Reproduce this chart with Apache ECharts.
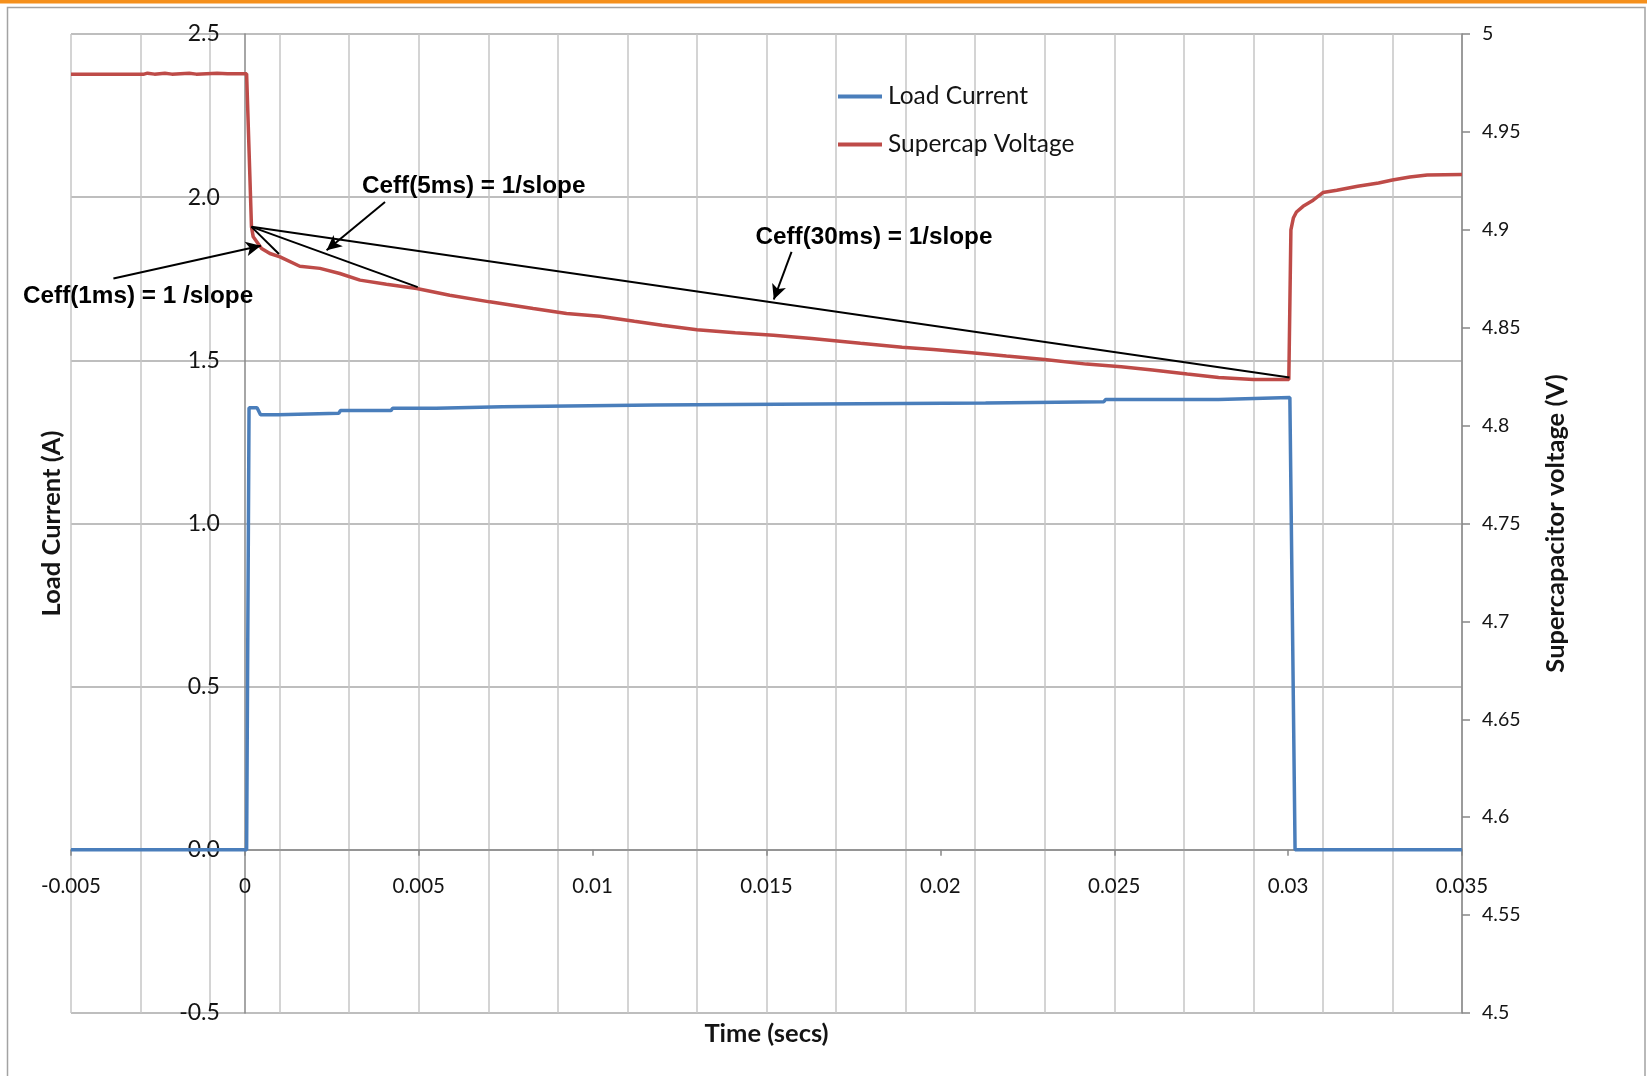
<!DOCTYPE html>
<html>
<head>
<meta charset="utf-8">
<title>Supercapacitor pulse discharge</title>
<script src="https://cdn.jsdelivr.net/npm/echarts@6/dist/echarts.min.js"></script>
<style>
  html, body { margin: 0; padding: 0; background: #ffffff; }
  #chart { width: 1647px; height: 1076px; }
</style>
</head>
<body>
<div id="chart"></div>
<script>
// Load current pulse (time in seconds, current in amps)
const currentTime = [-0.005, 0.00005, 0.00012, 0.00035, 0.00045, 0.00095, 0.001, 0.0027, 0.00275, 0.0042,
  0.00425, 0.0055, 0.00555, 0.0074, 0.00745, 0.0118, 0.01185, 0.0165, 0.01655, 0.0213,
  0.02135, 0.0247, 0.02475, 0.028, 0.02805, 0.03005, 0.0302, 0.035];
const currentValue = [0, 0, 1.355, 1.355, 1.333, 1.333, 1.338, 1.338, 1.346, 1.346,
  1.353, 1.353, 1.358, 1.358, 1.363, 1.363, 1.366, 1.366, 1.369, 1.369,
  1.373, 1.373, 1.38, 1.38, 1.386, 1.386, 0, 0];

// Supercapacitor terminal voltage (time in seconds, volts)
const voltageTime = [-0.005, -0.0029, -0.0028, -0.0026, -0.0023, -0.0021, -0.0016, -0.0014, -0.0008, -0.0005,
  0.00005, 0.00019, 0.00024, 0.00048, 0.00072, 0.00101, 0.00158, 0.00216, 0.00273, 0.00331,
  0.00407, 0.00494, 0.00589, 0.00704, 0.00829, 0.00925, 0.0102, 0.0112, 0.012, 0.013,
  0.0141, 0.0152, 0.0163, 0.0177, 0.0189, 0.0198, 0.0209, 0.0219, 0.023, 0.0242,
  0.0252, 0.0261, 0.0271, 0.028, 0.029, 0.03002, 0.03008, 0.03015, 0.03024, 0.03043,
  0.03072, 0.031, 0.0314, 0.032, 0.0326, 0.033, 0.0335, 0.034, 0.035];
const voltageValue = [4.9795, 4.9795, 4.98, 4.9795, 4.98, 4.9795, 4.98, 4.9795, 4.98, 4.9797,
  4.9797, 4.9015, 4.8964, 4.8905, 4.8879, 4.8862, 4.8814, 4.8803, 4.8777, 4.8743,
  4.8722, 4.87, 4.8666, 4.8632, 4.8598, 4.8573, 4.8559, 4.8533, 4.8513, 4.849,
  4.8474, 4.8462, 4.8445, 4.842, 4.84, 4.8389, 4.8372, 4.8355, 4.8338, 4.8314,
  4.8301, 4.8284, 4.8263, 4.8246, 4.8236, 4.8236, 4.9, 4.906, 4.9091, 4.912,
  4.9151, 4.919, 4.9202, 4.9222, 4.9239, 4.9254, 4.927, 4.928, 4.9282];

// Secant lines used to read the effective capacitance: common start, end after 1 ms, 5 ms, 30 ms
const slopeStart = [0.00019, 4.9015];
const slopeEnds = [[0.00098, 4.8876], [0.00497, 4.8707], [0.03004, 4.8246]];

// Callout arrows [from, to] and their captions, in (time, voltage) units
const arrowPairs = [
  [[-0.00378, 4.8751], [0.00046, 4.8919]],
  [[0.00403, 4.9142], [0.00235, 4.8896]],
  [[0.01572, 4.8887], [0.01521, 4.8644]]
];
const calloutTexts = ['Ceff(1ms) = 1 /slope', 'Ceff(5ms) = 1/slope', 'Ceff(30ms) = 1/slope'];
const calloutAnchors = [[-0.00638, 4.8662], [0.00658, 4.9222], [0.01809, 4.8962]];
const calloutAlign = ['left', 'center', 'center'];

// Axis tick settings
const timeTicks = { min: -0.005, max: 0.035, step: 0.005 };
const currentTicks = { min: -0.5, max: 2.5, step: 0.5 };
const voltageTicks = { min: 4.5, max: 5, step: 0.05 };

const zip = (xs, ys) => xs.map((x, i) => [x, ys[i]]);

const AXIS_GREY = '#888888';
const TEXT = '#141414';
const FONT = 'Lato';

const chart = echarts.init(document.getElementById('chart'), null, { renderer: 'canvas' });

const markLineData = [];
slopeEnds.forEach(end => {
  markLineData.push([
    { coord: slopeStart, symbol: 'none' },
    { coord: end, symbol: 'none' }
  ]);
});
arrowPairs.forEach(([from, to]) => {
  markLineData.push([
    { coord: from, symbol: 'none' },
    { coord: to, symbol: 'arrow', symbolSize: [11, 15] }
  ]);
});

chart.setOption({
  animation: false,
  backgroundColor: '#ffffff',
  grid: { left: 71, top: 34, right: 185, bottom: 63, containLabel: false, outerBoundsMode: 'none' },
  legend: {
    data: ['Load Current', 'Supercap Voltage'],
    orient: 'vertical',
    left: 838,
    top: 84,
    padding: 0,
    icon: 'rect',
    itemWidth: 44,
    itemHeight: 4,
    itemGap: 23,
    textStyle: { fontFamily: FONT, fontSize: 24.5, color: TEXT, padding: [0, 0, 0, 1] }
  },
  xAxis: [
    {
      type: 'value',
      min: timeTicks.min,
      max: timeTicks.max,
      interval: timeTicks.step,
      position: 'bottom',
      offset: 0,
      axisLine: { show: true, onZero: false, lineStyle: { color: AXIS_GREY, width: 1.5 } },
      axisTick: { show: true, length: 6, lineStyle: { color: AXIS_GREY, width: 1.5 } },
      axisLabel: {
        margin: 26, fontFamily: FONT, fontSize: 20.5, color: TEXT,
        formatter: v => String(+v.toFixed(3))
      },
      splitLine: { show: false },
      name: 'Time (secs)',
      nameLocation: 'middle',
      nameGap: 171,
      nameTextStyle: { fontFamily: FONT, fontWeight: 'bold', fontSize: 25.5, color: TEXT }
    },
    {
      // vertical grid every 2 ms, counted from the left edge of the time range
      type: 'value',
      min: 0,
      max: 40,
      interval: 2,
      axisLine: { show: false, onZero: false },
      axisTick: { show: false },
      axisLabel: { show: false },
      splitLine: { show: true, lineStyle: { color: '#c6c6c6', width: 1.5 } }
    }
  ],
  yAxis: [
    {
      type: 'value',
      min: currentTicks.min,
      max: currentTicks.max,
      interval: currentTicks.step,
      position: 'left',
      offset: 0,
      axisLine: { show: true, onZero: false, lineStyle: { color: AXIS_GREY, width: 1.5 } },
      axisTick: { show: false },
      axisLabel: {
        margin: 25, fontFamily: FONT, fontSize: 23, color: TEXT,
        formatter: v => v.toFixed(1)
      },
      splitLine: { show: true, lineStyle: { color: '#a8a8a8', width: 1.5 } },
      name: 'Load Current (A)',
      nameLocation: 'middle',
      nameGap: 180,
      nameTextStyle: { fontFamily: FONT, fontWeight: 'bold', fontSize: 25.5, color: TEXT }
    },
    {
      type: 'value',
      position: 'right',
      min: voltageTicks.min,
      max: voltageTicks.max,
      interval: voltageTicks.step,
      axisLine: { show: true, onZero: false, lineStyle: { color: AXIS_GREY, width: 1.5 } },
      axisTick: { show: true, length: 8, lineStyle: { color: AXIS_GREY, width: 1.5 } },
      axisLabel: {
        margin: 20, fontFamily: FONT, fontSize: 19.5, color: TEXT,
        formatter: v => String(+v.toFixed(2))
      },
      splitLine: { show: false },
      name: 'Supercapacitor voltage (V)',
      nameLocation: 'middle',
      nameGap: 81,
      nameTextStyle: { fontFamily: FONT, fontWeight: 'bold', fontSize: 25.5, color: TEXT }
    }
  ],
  series: [
    {
      name: 'Load Current',
      type: 'line',
      xAxisIndex: 0,
      yAxisIndex: 0,
      data: zip(currentTime, currentValue),
      symbol: 'none',
      color: '#4a7ebb',
      lineStyle: { color: '#4a7ebb', width: 3.5 },
      z: 3
    },
    {
      name: 'Supercap Voltage',
      type: 'line',
      xAxisIndex: 0,
      yAxisIndex: 1,
      data: zip(voltageTime, voltageValue),
      symbol: 'none',
      color: '#be4b48',
      lineStyle: { color: '#be4b48', width: 3.5 },
      z: 4,
      markLine: {
        silent: true,
        z: 6,
        symbol: ['none', 'none'],
        label: { show: false },
        lineStyle: { color: '#000000', width: 2, type: 'solid' },
        emphasis: { disabled: true },
        data: markLineData
      }
    }
  ]
});

// Cross the axes at zero: the time axis sits on 0 A, the current axis on t = 0
const xZero = chart.convertToPixel({ xAxisIndex: 0 }, 0);
const xLeft = chart.convertToPixel({ xAxisIndex: 0 }, timeTicks.min);
const yZero = chart.convertToPixel({ yAxisIndex: 0 }, 0);
const yBottom = chart.convertToPixel({ yAxisIndex: 0 }, currentTicks.min);

// Captions for the slope callouts, placed in data units on the voltage axis
const captions = calloutTexts.map((text, i) => {
  const p = chart.convertToPixel({ xAxisIndex: 0, yAxisIndex: 1 }, calloutAnchors[i]);
  return {
    type: 'text',
    x: p[0],
    y: p[1],
    z: 10,
    style: {
      text: text,
      fontFamily: 'Liberation Sans',
      fontWeight: 'bold',
      fontSize: 24.3,
      fill: '#000000',
      align: calloutAlign[i],
      verticalAlign: 'middle'
    }
  };
});

chart.setOption({
  xAxis: [{ offset: -(yBottom - yZero) }, {}],
  yAxis: [{ offset: -(xZero - xLeft) }, {}],
  graphic: [
    {
      type: 'rect',
      shape: { x: 7.5, y: 7.5, width: 1637.5, height: 1100 },
      style: { fill: 'none', stroke: '#a3a3a3', lineWidth: 1.5 },
      silent: true,
      z: -1
    },
    {
      type: 'rect',
      shape: { x: 0, y: 0, width: 1647, height: 3.5 },
      style: { fill: '#f5901c' },
      silent: true
    }
  ].concat(captions)
});
</script>
</body>
</html>
